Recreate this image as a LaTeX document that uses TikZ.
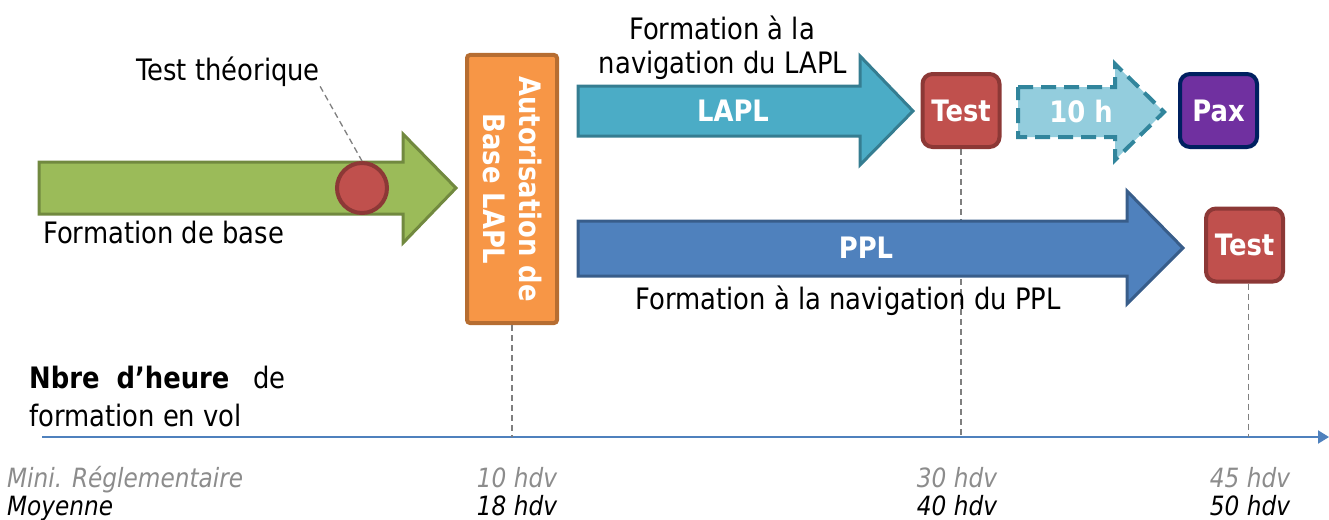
\documentclass[tikz,border=0pt]{standalone}
\usepackage{fontspec}
\setmainfont{DejaVu Sans}[FakeStretch=0.876]
\usetikzlibrary{arrows.meta}
\definecolor{grnF}{HTML}{9BBB59}\definecolor{grnD}{HTML}{71893F}
\definecolor{redF}{HTML}{C0504D}\definecolor{redD}{HTML}{8C3836}
\definecolor{orgF}{HTML}{F79646}\definecolor{orgD}{HTML}{B66D31}
\definecolor{aquF}{HTML}{4BACC6}\definecolor{aquD}{HTML}{357D91}
\definecolor{bluF}{HTML}{4F81BD}\definecolor{bluD}{HTML}{385D8A}
\definecolor{ltF}{HTML}{93CDDD}\definecolor{ltD}{HTML}{31859C}
\definecolor{purF}{HTML}{7030A0}\definecolor{purD}{HTML}{002060}
\definecolor{guide}{HTML}{7F7F7F}
\definecolor{axisC}{HTML}{4F81BD}
\definecolor{lblgray}{HTML}{8C8C8C}
\begin{document}
\begin{tikzpicture}[x=1pt,y=-1pt,
  txt/.style={font=\fontsize{29.5}{34}\selectfont, inner sep=0pt, text=black},
  btxt/.style={font=\fontsize{29.5}{36}\selectfont\bfseries, text=white, inner sep=0pt},
  smalllbl/.style={font=\fontsize{26.5}{31}\selectfont\itshape, inner sep=0pt, anchor=base},
  guideline/.style={draw=guide, line width=1.3pt, dash pattern=on 6pt off 4pt},
  bigarrow/.style={line width=3pt, line join=miter},
  roundbox/.style={rounded corners=10pt, line width=4pt, minimum width=77pt, minimum height=73pt, inner sep=0pt, btxt}
]
\useasboundingbox (0,0) rectangle (1329,519);

% axis
\coordinate (ax0) at (42,437);
\coordinate (ax1) at (1329,437);
\draw[axisC, line width=2pt, -{Triangle[length=11pt,width=13pt]}] (ax0) -- (ax1);

% boxes that have guide lines
\node[roundbox, draw=redD, fill=redF] (test1) at (961,110.5) {Test};
\node[roundbox, draw=redD, fill=redF] (test2) at (1244.5,245) {Test};
\node[draw=orgD, fill=orgF, line width=4pt, minimum width=90pt, minimum height=268pt, rounded corners=3pt, inner sep=0pt] (auth) at (512,189) {};
\node[btxt, rotate=-90, align=center] (authtxt) at (auth.center) {Autorisation de\\Base LAPL};

% guide lines (behind arrows)
\coordinate (g1) at (test1.south |- ax0);
\coordinate (g2) at ([xshift=4pt]test2.south |- ax0);
\coordinate (g0) at (auth.south |- ax0);
\draw[guideline] (test1.south) -- (g1);
\draw[guideline] ([xshift=4pt]test2.south) -- (g2);
\draw[guideline] (auth.south) -- (g0);

% green arrow
\draw[bigarrow, draw=grnD, fill=grnF]
  (39,162) -- (403,162) -- (403,134) -- (456,188) -- (403,243) -- (403,214) -- (39,214) -- cycle;
\node[circle, draw=redD, fill=redF, line width=4pt, minimum size=50pt, inner sep=0pt] (thq) at (362,188) {};
\node[txt, anchor=base] (thlabel) at (228,80) {Test théorique};
\draw[guideline] (thlabel.south east) -- (thq.north);
\node[txt, anchor=base west] (fbase) at (43,243) {Formation de base};

% LAPL arrow
\draw[bigarrow, draw=aquD, fill=aquF]
  (578,86) -- (860,86) -- (860,56) -- (913,111) -- (860,165) -- (860,136) -- (578,136) -- cycle;
\node[btxt] (lapl) at (733,111) {LAPL};
\node[txt, anchor=base] (lapl1) at (722,40) {Formation à la};
\node[txt, anchor=base] (lapl2) at (723,74) {navigation du LAPL};

% PPL arrow
\draw[bigarrow, draw=bluD, fill=bluF]
  (578,221) -- (1127,221) -- (1127,191) -- (1183,248) -- (1127,304) -- (1127,276) -- (578,276) -- cycle;
\node[btxt] (ppl) at (866,248) {PPL};
\node[txt, anchor=base] (pplnav) at (848,309) {Formation à la navigation du PPL};

% dashed 10 h arrow
\draw[line width=4pt, draw=ltD, fill=ltF, dash pattern=on 15pt off 8pt, line join=miter]
  (1018,87) -- (1115,87) -- (1115,64) -- (1164,112) -- (1115,160) -- (1115,137) -- (1018,137) -- cycle;
\node[btxt] (tenh) at (1081,112) {10 h};

% Pax
\node[roundbox, draw=purD, fill=purF] (pax) at (1218.5,110.5) {Pax};

% axis title
\node[txt, anchor=base west] (nbre) at (29,388) {\textbf{Nbre}\hspace{17pt}\textbf{d’heure}\hspace{24pt}de};
\node[txt, anchor=base west] (fvol) at (29,426) {formation en vol};

% bottom labels
\node[smalllbl, anchor=base west, text=lblgray] (mini) at (7,487) {Mini. Réglementaire};
\node[smalllbl, anchor=base west, text=black] (moy) at (7,515) {Moyenne};
\node[smalllbl, text=lblgray] (m10) at (517,487) {10 hdv};
\node[smalllbl, text=black] (y18) at (517,515) {18 hdv};
\node[smalllbl, text=lblgray] (m30) at (957,487) {30 hdv};
\node[smalllbl, text=black] (y40) at (957,515) {40 hdv};
\node[smalllbl, text=lblgray] (m45) at (1250,487) {45 hdv};
\node[smalllbl, text=black] (y50) at (1250,515) {50 hdv};
\end{tikzpicture}
\end{document}
